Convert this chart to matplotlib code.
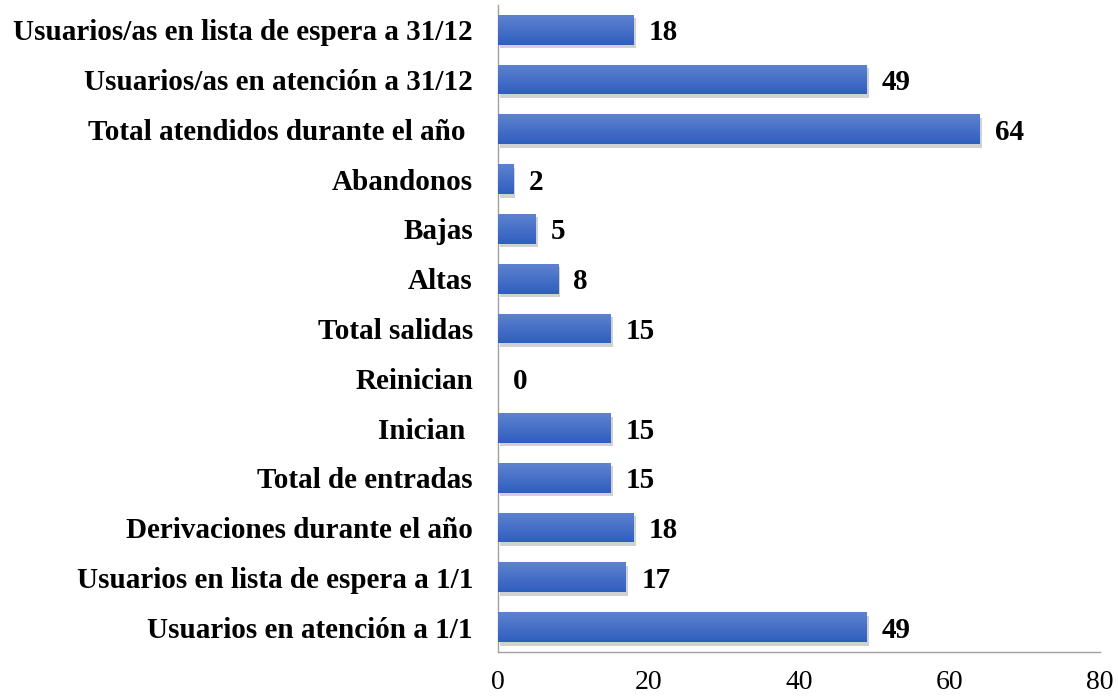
import matplotlib
matplotlib.use("Agg")
import matplotlib.pyplot as plt
import matplotlib.patheffects as pe
import numpy as np

categories = [
    "Usuarios/as en lista de espera a 31/12",
    "Usuarios/as en atención a 31/12",
    "Total atendidos durante el año ",
    "Abandonos",
    "Bajas",
    "Altas",
    "Total salidas",
    "Reinician",
    "Inician ",
    "Total de entradas",
    "Derivaciones durante el año",
    "Usuarios en lista de espera a 1/1",
    "Usuarios en atención a 1/1",
]
values = [18, 49, 64, 2, 5, 8, 15, 0, 15, 15, 18, 17, 49]
xticks = [0, 20, 40, 60, 80]

plt.rcParams['font.family'] = ['Liberation Serif', 'DejaVu Serif']

fig = plt.figure(figsize=(11.18, 6.96), dpi=100)
ax = fig.add_axes([0.4454, 0.0632, 0.5385, 0.9298])

ypos = np.arange(len(categories))
bars = ax.barh(ypos, values, height=0.6, color="#4472c4", zorder=2,
               path_effects=[pe.SimplePatchShadow(offset=(1.5, -2.5), shadow_rgbFace="#000000", alpha=0.18),
                             pe.Normal()])

# vertical gradient on each bar (lighter on top, darker at bottom)
grad = np.linspace(0, 1, 64).reshape(-1, 1)
cmap = matplotlib.colors.LinearSegmentedColormap.from_list("g", ["#5e82d0", "#2f5fbf"])
for b in bars:
    if b.get_width() <= 0:
        continue
    x0, y0 = b.get_x(), b.get_y()
    w, h = b.get_width(), b.get_height()
    im = ax.imshow(grad, cmap=cmap, aspect="auto", extent=[x0, x0 + w, y0 + h, y0],
                   origin="upper", zorder=3)
    im.set_clip_path(b)

for y, v in zip(ypos, values):
    ax.annotate(str(v), (v, y), xytext=(11, 0), textcoords="offset points",
                va="center_baseline", ha="left", fontsize=21, fontweight="bold")

ax.set_ylim(12.5, -0.5)
ax.set_xlim(0, 80)
ax.set_yticks(ypos)
ax.set_yticklabels(categories, fontsize=21, fontweight="bold")
ax.set_xticks(xticks)
ax.set_xticklabels([str(t) for t in xticks], fontsize=20)
ax.tick_params(axis="y", length=0, pad=18)
ax.tick_params(axis="x", length=0, pad=13)

for s in ["top", "right"]:
    ax.spines[s].set_visible(False)
for s in ["left", "bottom"]:
    ax.spines[s].set_color("#a0a0a0")
    ax.spines[s].set_linewidth(1.0)

fig.savefig("out.png", dpi=100)
